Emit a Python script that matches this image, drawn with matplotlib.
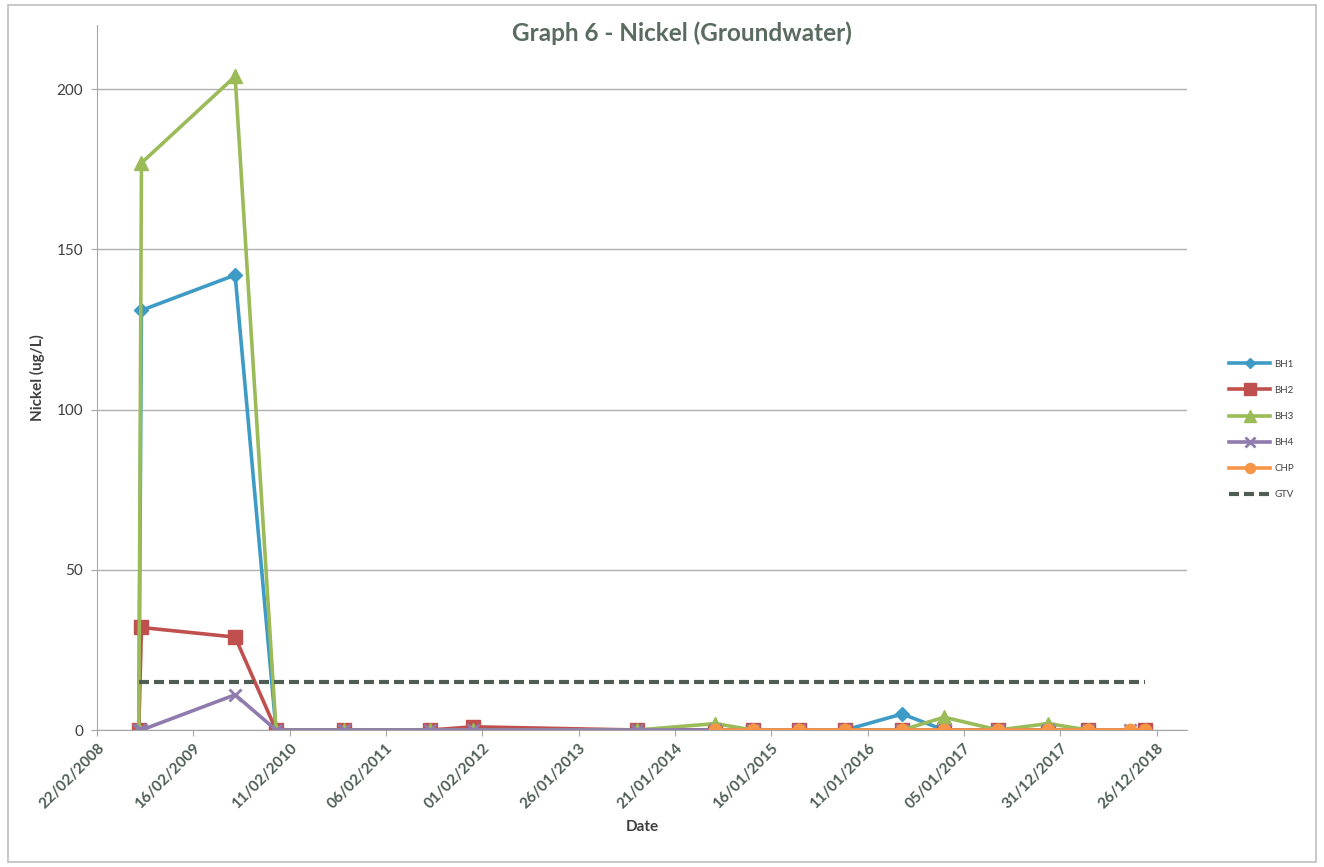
import datetime as dt

import matplotlib

matplotlib.use("Agg")
import matplotlib.dates as mdates
import matplotlib.pyplot as plt
from matplotlib.patches import Rectangle

# sampling rounds (approximate dates); first row is an empty round read as zero
dates = [
    dt.date(2008, 7, 27), dt.date(2008, 8, 6), dt.date(2009, 7, 22),
    dt.date(2009, 12, 22), dt.date(2010, 9, 2), dt.date(2011, 7, 21),
    dt.date(2011, 12, 28), dt.date(2013, 9, 2), dt.date(2014, 6, 20),
    dt.date(2014, 11, 9), dt.date(2015, 4, 30), dt.date(2015, 10, 19),
    dt.date(2016, 5, 19), dt.date(2016, 10, 23), dt.date(2017, 5, 13),
    dt.date(2017, 11, 16), dt.date(2018, 4, 14), dt.date(2018, 9, 18),
    dt.date(2018, 11, 13),
]
N = None
bh1 = [0, 131, 142, 0, 0, 0, 0, 0, 0, 0, 0, 0, 5, 0, 0, 0, 0, N, N]
bh2 = [0, 32, 29, 0, 0, 0, 1, 0, 0, 0, 0, 0, 0, 0, 0, 0, 0, N, 0]
bh3 = [0, 177, 204, 0, 0, 0, 0, 0, 2, 0, 0, 0, 0, 4, 0, 2, 0, N, N]
bh4 = [0, 0, 11, 0, 0, 0, 0, 0, 0, 0, 0, 0, 0, 0, 0, 0, 0, 0, N]
chp = [N, N, N, N, N, N, N, N, 0, 0, 0, 0, 0, 0, 0, 0, 0, 0, 0]
gtv = [15] * len(dates)

axis_start = dt.date(2008, 2, 22)
axis_end = dt.date(2019, 4, 19)
tick_dates = [axis_start + dt.timedelta(days=360 * k) for k in range(12)]

series = [
    ("BH1", bh1, "#3E9BC6", "D", 7),
    ("BH2", bh2, "#C0504D", "s", 10),
    ("BH3", bh3, "#9BBB59", "^", 10),
    ("BH4", bh4, "#8F7BAE", "x", 9),
    ("CHP", chp, "#F79646", "o", 9),
]

plt.rcParams["font.family"] = ["Lato", "DejaVu Sans"]
text_col = "#4D5E54"

fig = plt.figure(figsize=(13.24, 8.67), dpi=100)
fig.patches.append(Rectangle((0.006, 0.006), 0.988, 0.988, transform=fig.transFigure,
                             fill=False, edgecolor="#BFBFBF", linewidth=1.2))
ax = fig.add_axes([0.0733, 0.158, 0.8233, 0.813])

for name, vals, color, marker, ms in series:
    pts = [(d, v) for d, v in zip(dates, vals) if v is not None]
    xs = [p[0] for p in pts]
    ys = [p[1] for p in pts]
    ax.plot(xs, ys, color=color, linewidth=2.6, marker=marker, markersize=ms,
            markeredgewidth=2 if marker == "x" else 1, label=name)

ax.plot(dates, gtv, color="#4F5D55", linewidth=3, linestyle=(0, (2.4, 1.2)), label="GTV")

ax.set_xlim(axis_start, axis_end)
ax.set_ylim(0, 220)
ax.set_yticks([0, 50, 100, 150, 200])
ax.set_xticks(tick_dates)
ax.xaxis.set_major_formatter(mdates.DateFormatter("%d/%m/%Y"))
for lab in ax.get_xticklabels():
    lab.set_rotation(45)
    lab.set_ha("right")
    lab.set_rotation_mode("anchor")
    lab.set_fontweight("bold")
    lab.set_color(text_col)
ax.tick_params(axis="x", labelsize=11, length=4, color="#A6A6A6", pad=4)
ax.tick_params(axis="y", labelsize=11, length=4, color="#A6A6A6", labelcolor="#3F3F3F", pad=6)

ax.grid(axis="y", color="#B0B0B0", linewidth=1)
ax.set_axisbelow(True)
for side in ("top", "right"):
    ax.spines[side].set_visible(False)
for side in ("left", "bottom"):
    ax.spines[side].set_color("#A6A6A6")

ax.set_xlabel("Date", fontsize=11, fontweight="bold", color="#3F3F3F", labelpad=6)
ax.set_ylabel("Nickel (ug/L)", fontsize=11, fontweight="bold", color="#3F3F3F", labelpad=8)
fig.text(0.515, 0.962, "Graph 6 - Nickel (Groundwater)", ha="center", va="center",
         fontsize=17.5, fontweight="bold", color="#5A6B60")

leg = fig.legend(loc="upper left", bbox_to_anchor=(0.922, 0.595), frameon=False,
                 fontsize=7, handlelength=4.2, labelspacing=1.75, handletextpad=0.4,
                 markerscale=0.8)
for t in leg.get_texts():
    t.set_color("#404040")

fig.savefig("out.png", dpi=100)
